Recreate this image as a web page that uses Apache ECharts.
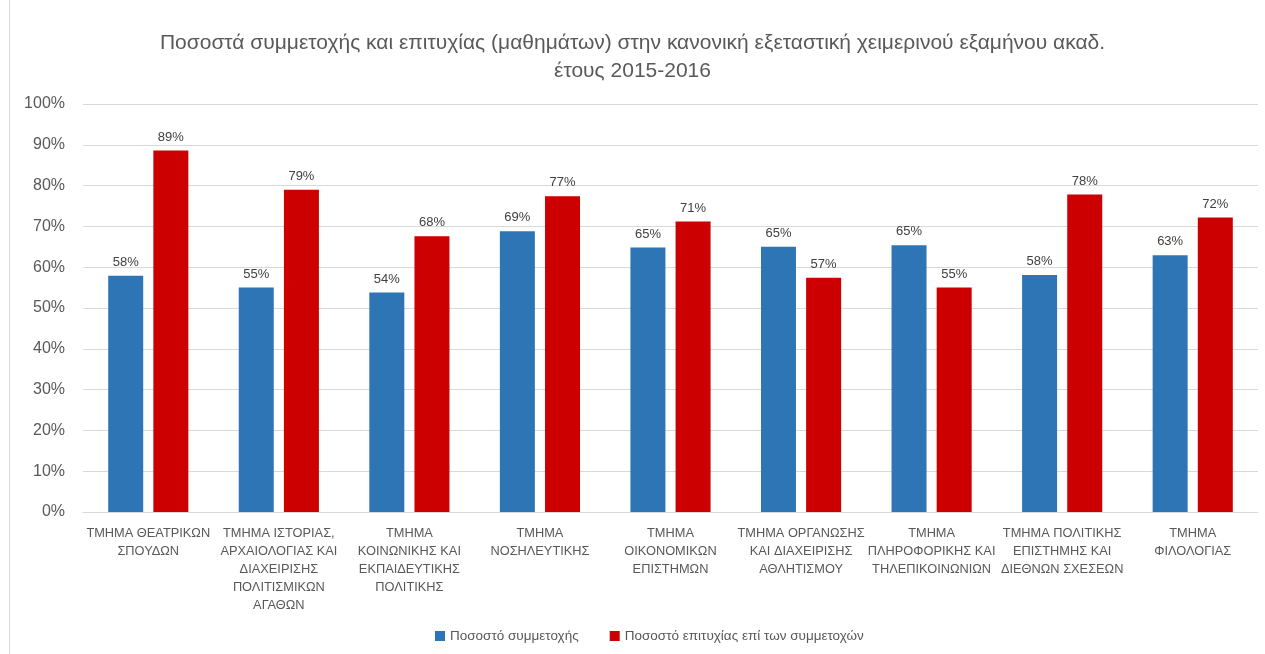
<!DOCTYPE html>
<html>
<head>
<meta charset="utf-8">
<script src="https://cdn.jsdelivr.net/npm/echarts@6/dist/echarts.min.js"></script>
<style>
html,body{margin:0;padding:0;background:#fff;}
#c{width:1265px;height:654px;}
</style>
</head>
<body>
<div id="c"></div>
<script>
const titleLines = [
  "Ποσοστά συμμετοχής και επιτυχίας (μαθημάτων) στην κανονική εξεταστική χειμερινού εξαμήνου ακαδ.",
  "έτους 2015-2016"
];
const categories = [
  "ΤΜΗΜΑ ΘΕΑΤΡΙΚΩΝ\nΣΠΟΥΔΩΝ",
  "ΤΜΗΜΑ ΙΣΤΟΡΙΑΣ,\nΑΡΧΑΙΟΛΟΓΙΑΣ ΚΑΙ\nΔΙΑΧΕΙΡΙΣΗΣ\nΠΟΛΙΤΙΣΜΙΚΩΝ\nΑΓΑΘΩΝ",
  "ΤΜΗΜΑ\nΚΟΙΝΩΝΙΚΗΣ ΚΑΙ\nΕΚΠΑΙΔΕΥΤΙΚΗΣ\nΠΟΛΙΤΙΚΗΣ",
  "ΤΜΗΜΑ\nΝΟΣΗΛΕΥΤΙΚΗΣ",
  "ΤΜΗΜΑ\nΟΙΚΟΝΟΜΙΚΩΝ\nΕΠΙΣΤΗΜΩΝ",
  "ΤΜΗΜΑ ΟΡΓΑΝΩΣΗΣ\nΚΑΙ ΔΙΑΧΕΙΡΙΣΗΣ\nΑΘΛΗΤΙΣΜΟΥ",
  "ΤΜΗΜΑ\nΠΛΗΡΟΦΟΡΙΚΗΣ ΚΑΙ\nΤΗΛΕΠΙΚΟΙΝΩΝΙΩΝ",
  "ΤΜΗΜΑ ΠΟΛΙΤΙΚΗΣ\nΕΠΙΣΤΗΜΗΣ ΚΑΙ\nΔΙΕΘΝΩΝ ΣΧΕΣΕΩΝ",
  "ΤΜΗΜΑ\nΦΙΛΟΛΟΓΙΑΣ"
];
const seriesNames = ["Ποσοστό συμμετοχής", "Ποσοστό επιτυχίας επί των συμμετοχών"];
const participation = [57.9, 55.0, 53.8, 68.8, 64.8, 65.0, 65.4, 58.1, 62.9];
const success = [88.6, 79.0, 67.6, 77.4, 71.2, 57.4, 55.0, 77.8, 72.2];
const yTicks = [0, 10, 20, 30, 40, 50, 60, 70, 80, 90, 100];

const FONT = "Liberation Sans";
const chart = echarts.init(document.getElementById('c'), null, {renderer: 'canvas'});
chart.setOption({
  backgroundColor: '#ffffff',
  animation: false,
  textStyle: {fontFamily: FONT},
  title: {
    text: titleLines.join('\n'),
    left: 'center',
    top: 24,
    textStyle: {fontFamily: FONT, fontSize: 21, fontWeight: 'normal', color: '#595959', lineHeight: 28}
  },
  legend: {
    data: seriesNames,
    bottom: 6,
    left: 430,
    itemWidth: 10,
    itemHeight: 10,
    itemGap: 31,
    icon: 'rect',
    textStyle: {fontFamily: FONT, fontSize: 13.5, color: '#595959'}
  },
  graphic: [{
    type: 'line',
    shape: {x1: 9.5, y1: 0, x2: 9.5, y2: 654},
    style: {stroke: '#d9d9d9', lineWidth: 1}
  }],
  grid: {left: 83, right: 7, top: 104, bottom: 142, containLabel: false},
  xAxis: {
    type: 'category',
    data: categories,
    axisLine: {lineStyle: {color: '#d9d9d9'}},
    axisTick: {show: false},
    axisLabel: {interval: 0, color: '#595959', fontFamily: FONT, fontSize: 12.8, lineHeight: 18, margin: 12}
  },
  yAxis: {
    type: 'value',
    min: yTicks[0],
    max: yTicks[yTicks.length - 1],
    interval: 10,
    axisLine: {show: false},
    axisTick: {show: false},
    splitLine: {lineStyle: {color: '#d9d9d9'}},
    axisLabel: {formatter: v => v + '%', color: '#595959', fontFamily: FONT, fontSize: 16, margin: 18}
  },
  series: [
    {
      name: seriesNames[0], type: 'bar', data: participation,
      barWidth: 35, barGap: '29%',
      itemStyle: {color: '#2E75B6'},
      label: {show: true, position: 'top', distance: 7, formatter: p => Math.round(p.value) + '%', color: '#404040', fontFamily: FONT, fontSize: 13}
    },
    {
      name: seriesNames[1], type: 'bar', data: success,
      barWidth: 35,
      itemStyle: {color: '#CC0000'},
      label: {show: true, position: 'top', distance: 7, formatter: p => Math.round(p.value) + '%', color: '#404040', fontFamily: FONT, fontSize: 13}
    }
  ]
});
</script>
</body>
</html>
